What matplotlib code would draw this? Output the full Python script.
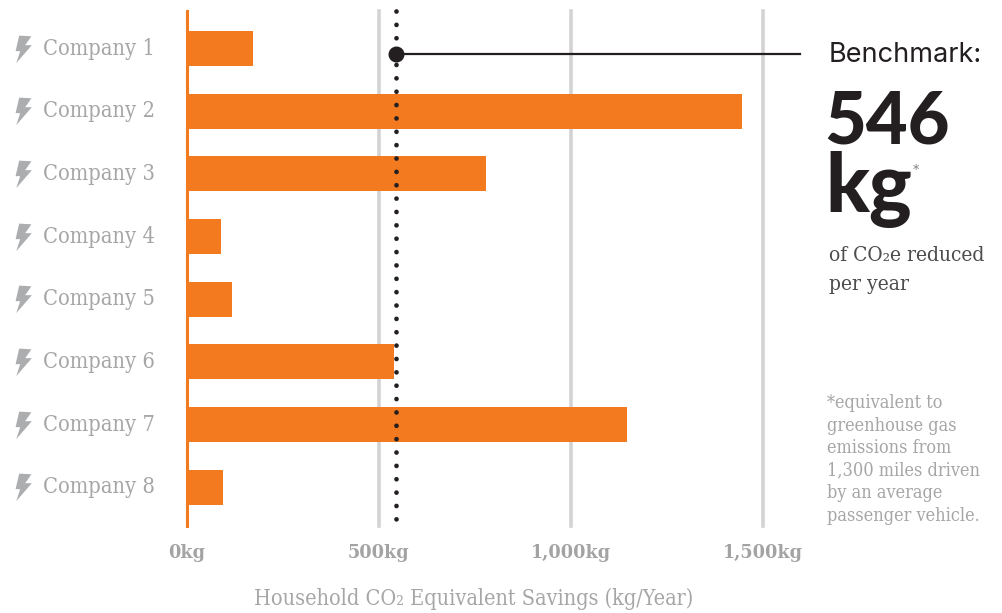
import matplotlib
matplotlib.use("Agg")
import matplotlib.pyplot as plt
from matplotlib.path import Path

companies = ["Company 1", "Company 2", "Company 3", "Company 4",
             "Company 5", "Company 6", "Company 7", "Company 8"]
savings = [172, 1445, 778, 90, 119, 541, 1146, 94]
benchmark = 546
tick_values = [0, 500, 1000, 1500]
tick_labels = ["0kg", "500kg", "1,000kg", "1,500kg"]

W, H = 1003, 613
SERIF = "DejaVu Serif"
ORANGE = "#F47A20"
DARK = "#231F20"
GREY = "#A6A6A6"

fig = plt.figure(figsize=(W / 100, H / 100), dpi=100, facecolor="white")
left, right, top, bottom = 186.5, 763, 11, 526
ax = fig.add_axes([left / W, 1 - bottom / H, (right - left) / W, (bottom - top) / H])
ax.set_xlim(0, 1500)
ax.set_ylim(7.62, -0.6)
for s in ax.spines.values():
    s.set_visible(False)
ax.set_xticks([])
ax.set_yticks([])
ax.patch.set_alpha(0)

for v in tick_values[1:]:
    ax.axvline(v, color="#D3D3D3", lw=2.6, zorder=1, clip_on=False)
ypos = list(range(len(companies)))
ax.barh(ypos, savings, height=0.56, color=ORANGE, zorder=2)
ax.axvline(0, color=ORANGE, lw=2.2, zorder=3, clip_on=False)

ax.plot([benchmark, benchmark], [-0.6, 7.62], color=DARK, lw=3.4,
        linestyle=(0, (0.01, 2.82)), dash_capstyle="round", zorder=4, clip_on=False)
ax.plot([benchmark, 1595], [0.09, 0.09], color=DARK, lw=1.6, zorder=4, clip_on=False)
ax.plot([benchmark], [0.09], "o", color=DARK, ms=10.5, zorder=5, clip_on=False)

bolt = Path([(-0.31, 1.0), (0.57, 0.95), (0.12, 0.31), (0.6, 0.31), (-0.52, -0.98),
             (-0.24, -0.12), (-0.57, -0.12), (-0.31, 1.0)], closed=True)
tx = ax.get_yaxis_transform()
ax.plot([-0.283] * len(ypos), ypos, linestyle="none", marker=bolt, ms=20, color="#ABADAF",
        mew=0, transform=tx, clip_on=False)

def px(x, y, s, **kw):
    fig.text(x / W, 1 - y / H, s, **kw)

for y, name in zip(ypos, companies):
    ax.text(-0.249, y, name, transform=tx, ha="left", va="center", fontsize=15.7,
            family=SERIF, fontstretch="condensed", color=GREY, clip_on=False)
for v, lab in zip(tick_values, tick_labels):
    px(left + (right - left) * v / 1500, 553, lab, ha="center", va="center", fontsize=14,
       family=SERIF, fontstretch="condensed", weight="bold", color="#A3A3A3")

px(474, 599, "Household CO₂ Equivalent Savings (kg/Year)", ha="center", va="center",
   fontsize=15.5, family=SERIF, fontstretch="condensed", color=GREY)

px(829, 62, "Benchmark:", ha="left", va="baseline", fontsize=19.5, family="Inter", color=DARK)
px(824, 143, "546", ha="left", va="baseline", fontsize=52, family="Lato", weight="black", color=DARK)
px(825, 212, "kg", ha="left", va="baseline", fontsize=58, family="Lato", weight="black", color=DARK)
px(913, 171, "*", ha="left", va="center", fontsize=9, family=SERIF, color="#808080")
px(829, 255, "of CO₂e reduced", ha="left", va="center", fontsize=15, family=SERIF,
   fontstretch="condensed", color="#4D4D4D")
px(829, 284, "per year", ha="left", va="center", fontsize=15, family=SERIF,
   fontstretch="condensed", color="#4D4D4D")

notes = ["*equivalent to", "greenhouse gas", "emissions from", "1,300 miles driven",
         "by an average", "passenger vehicle."]
for i, line in enumerate(notes):
    px(827, 403 + i * 22.6, line, ha="left", va="center", fontsize=13, family=SERIF,
       fontstretch="condensed", color=GREY)

fig.savefig("out.png", dpi=100)
